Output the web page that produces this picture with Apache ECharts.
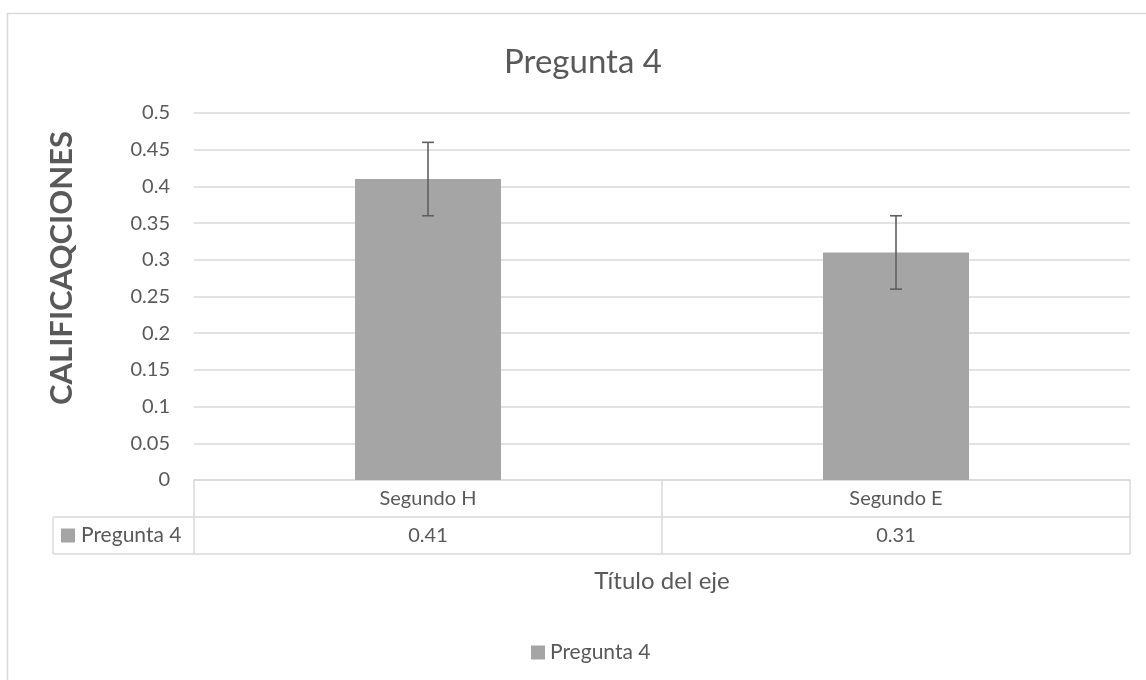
<!DOCTYPE html>
<html>
<head>
<meta charset="utf-8">
<script src="https://cdn.jsdelivr.net/npm/echarts@6/dist/echarts.min.js"></script>
<style>html,body{margin:0;padding:0;background:#fff;}#c{width:1146px;height:680px;}</style>
</head>
<body>
<div id="c"></div>
<script>
var categories = ['Segundo H', 'Segundo E'];
var values = [0.41, 0.31];
var errLow = [0.36, 0.26];
var errHigh = [0.46, 0.36];
var yTicks = [0, 0.05, 0.1, 0.15, 0.2, 0.25, 0.3, 0.35, 0.4, 0.45, 0.5];
var seriesName = 'Pregunta 4';
var chartTitle = 'Pregunta 4';
var yTitle = 'CALIFICAQCIONES';
var xTitle = 'Título del eje';

var TXT = '#595959', GRID = '#d9d9d9', BAR = '#a5a5a5', FONT = 'Lato, "Open Sans", sans-serif';
var chart = echarts.init(document.getElementById('c'));
var option = {
  backgroundColor: '#fff',
  animation: false,
  grid: { left: 194, right: 16, top: 113, bottom: 200, containLabel: false },
  legend: {
    data: [seriesName], left: 526, top: 637, icon: 'rect', itemWidth: 14, itemHeight: 14, itemGap: 5,
    textStyle: { color: TXT, fontSize: 21, fontFamily: FONT }
  },
  xAxis: [
    { type: 'category', data: categories, position: 'bottom',
      axisLine: { show: true, lineStyle: { color: GRID, width: 1.5 } },
      axisTick: { show: true, length: 74, interval: 0, lineStyle: { color: GRID, width: 1.5 } },
      axisLabel: { color: TXT, fontSize: 20, fontFamily: FONT, margin: 9, interval: 0 },
      splitLine: { show: false } },
    { type: 'category', data: categories, position: 'bottom', offset: 37,
      axisLine: { show: true, lineStyle: { color: GRID, width: 1.5 } },
      axisTick: { show: false },
      axisLabel: { color: TXT, fontSize: 20, fontFamily: FONT, margin: 9, interval: 0,
        formatter: function (v, i) { return String(values[i]); } } },
    { type: 'category', data: categories, position: 'bottom', offset: 74,
      axisLine: { show: true, lineStyle: { color: GRID, width: 1.5 } },
      axisTick: { show: false }, axisLabel: { show: false } }
  ],
  yAxis: {
    type: 'value', min: 0, max: 0.5, interval: 0.05,
    axisLine: { show: false }, axisTick: { show: false },
    axisLabel: { color: TXT, fontSize: 20, fontFamily: FONT, margin: 24,
      formatter: function (v) { var t = yTicks.find(function (k) { return Math.abs(k - v) < 1e-9; }); return String(t !== undefined ? t : v); } },
    splitLine: { show: true, lineStyle: { color: GRID, width: 1.5 } }
  },
  series: [
    { name: seriesName, type: 'bar', data: values, barWidth: 146, itemStyle: { color: BAR }, xAxisIndex: 0 },
    { name: 'err', type: 'custom', xAxisIndex: 0, silent: true, z: 5,
      data: categories.map(function (c, i) { return [i, errLow[i], errHigh[i]]; }),
      renderItem: function (params, api) {
        var lo = api.coord([api.value(0), api.value(1)]);
        var hi = api.coord([api.value(0), api.value(2)]);
        var w = 6;
        var st = { stroke: '#5f5f5f', lineWidth: 1.6 };
        return { type: 'group', children: [
          { type: 'line', shape: { x1: hi[0], y1: hi[1], x2: lo[0], y2: lo[1] }, style: st },
          { type: 'line', shape: { x1: hi[0] - w, y1: hi[1], x2: hi[0] + w, y2: hi[1] }, style: st },
          { type: 'line', shape: { x1: lo[0] - w, y1: lo[1], x2: lo[0] + w, y2: lo[1] }, style: st }
        ] };
      } }
  ]
};
chart.setOption(option);

var y0 = chart.convertToPixel({ yAxisIndex: 0 }, 0);
var xL = 194;
var r1 = y0 + 37, r2 = y0 + 74;
chart.setOption({
  graphic: [
    { type: 'rect', shape: { x: 7.5, y: 13.5, width: 1300, height: 1000 }, style: { fill: 'none', stroke: GRID, lineWidth: 1.5 }, silent: true },
    { type: 'text', x: 583, y: 62, style: { text: chartTitle, fill: TXT, fontSize: 33, fontFamily: FONT, align: 'center', verticalAlign: 'middle' } },
    { type: 'text', x: 62, y: 268, rotation: Math.PI / 2, style: { text: yTitle, fill: TXT, fontSize: 31, fontWeight: 'bold', fontFamily: FONT, align: 'center', verticalAlign: 'middle' } },
    { type: 'text', x: 662, y: 581, style: { text: xTitle, fill: TXT, fontSize: 24, fontFamily: FONT, align: 'center', verticalAlign: 'middle' } },
    { type: 'line', shape: { x1: 53, y1: r1, x2: xL, y2: r1 }, style: { stroke: GRID, lineWidth: 1.5 } },
    { type: 'line', shape: { x1: 53, y1: r2, x2: xL, y2: r2 }, style: { stroke: GRID, lineWidth: 1.5 } },
    { type: 'line', shape: { x1: 53, y1: r1, x2: 53, y2: r2 }, style: { stroke: GRID, lineWidth: 1.5 } },
    { type: 'rect', shape: { x: 61, y: (r1 + r2) / 2 - 7, width: 14, height: 14 }, style: { fill: BAR } },
    { type: 'text', x: 81, y: (r1 + r2) / 2, style: { text: seriesName, fill: TXT, fontSize: 21, fontFamily: FONT, verticalAlign: 'middle' } }
  ]
});
</script>
</body>
</html>
